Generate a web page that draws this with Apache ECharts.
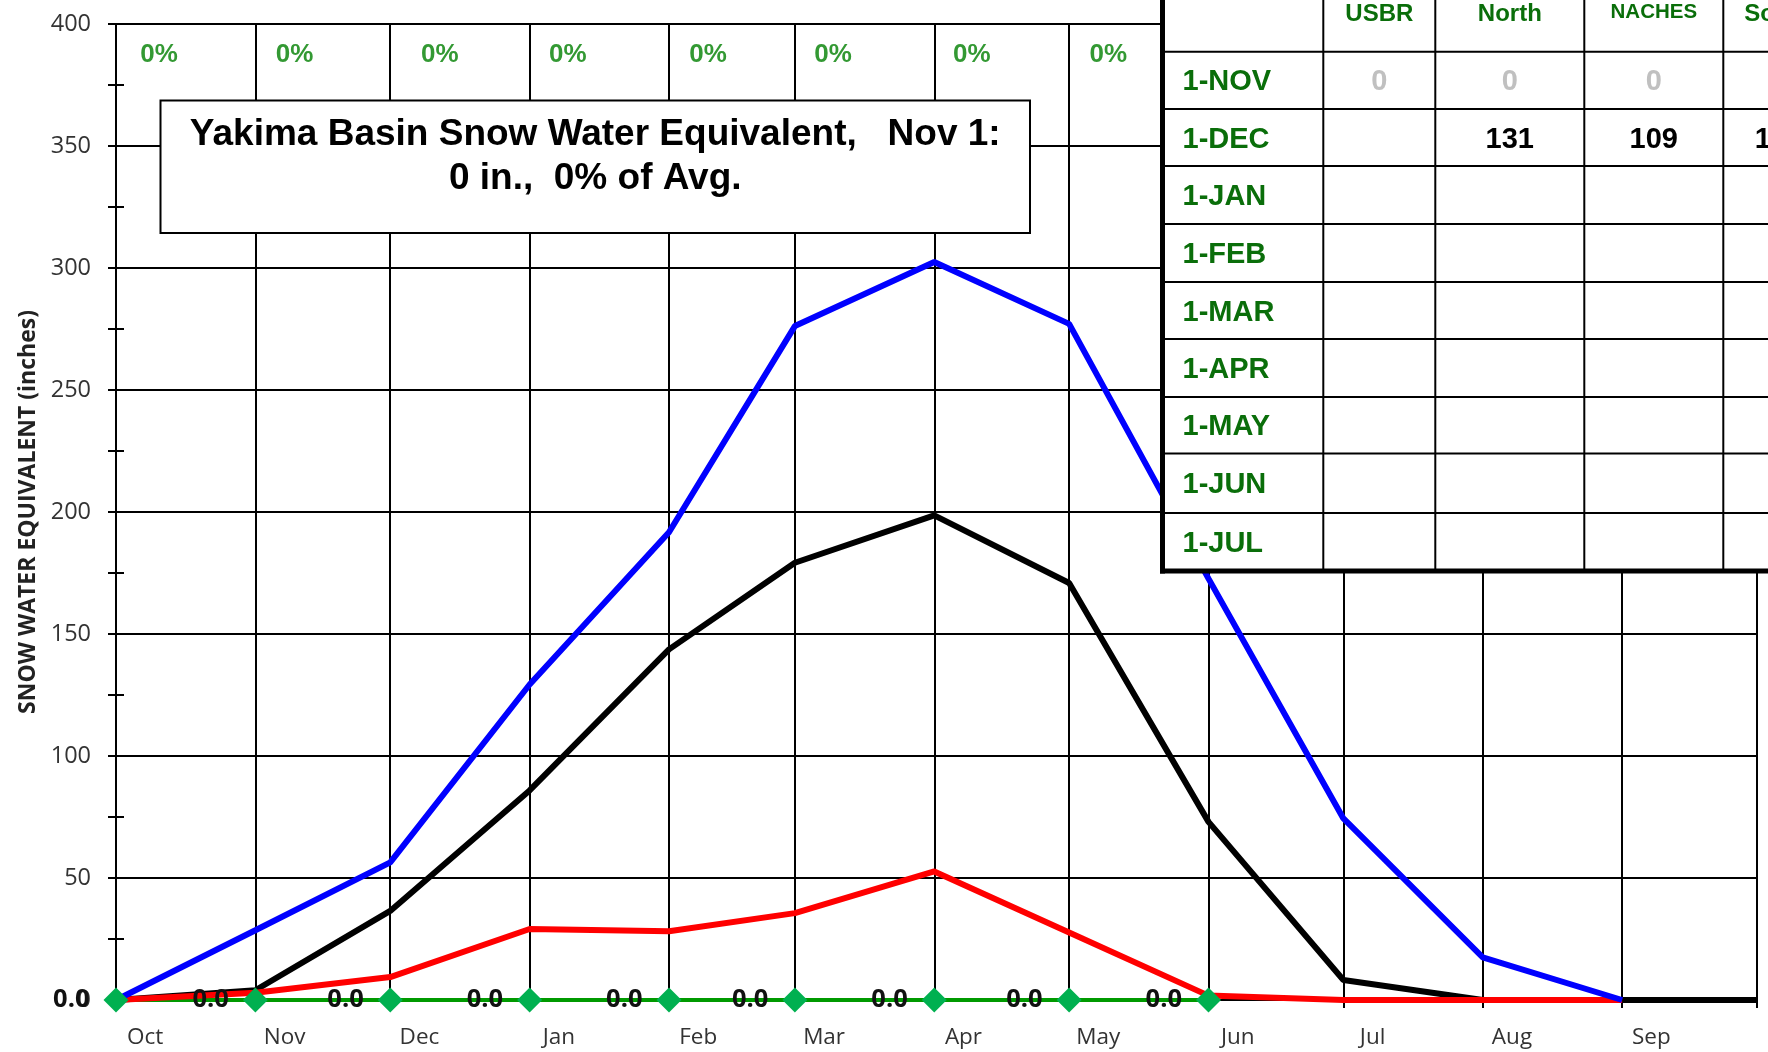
<!DOCTYPE html>
<html>
<head>
<meta charset="utf-8">
<script src="https://cdn.jsdelivr.net/npm/echarts@6/dist/echarts.min.js"></script>
<style>
html,body{margin:0;padding:0;background:#fff;}
#chart{width:1768px;height:1052px;}
</style>
</head>
<body>
<div id="chart"></div>
<script>
// ---------- data ----------
const monthStarts = ['2022-10-01','2022-11-01','2022-12-01','2023-01-01','2023-02-01','2023-03-01',
  '2023-04-01','2023-05-01','2023-06-01','2023-07-01','2023-08-01','2023-09-01','2023-10-01'];
const monthNames = ['Oct','Nov','Dec','Jan','Feb','Mar','Apr','May','Jun','Jul','Aug','Sep'];
// snow water equivalent (inches) on the 1st of each month
const maxSWE = [0, 28.6, 56.4, 129.3, 191.7, 276.2, 302.5, 277.1, 172.7, 74.4, 17.5, 0];          // Oct..Sep
const avgSWE = [0, 4, 36.5, 85.9, 143.7, 179.2, 198.6, 170.9, 73, 8.2, 0, 0, 0];                  // Oct..Oct
const minSWE = [0, 3, 9.4, 29.1, 28.2, 35.6, 52.7, 27.7, 1.8, 0, 0, 0];                           // Oct..Sep
const curSWE = [0, 0, 0, 0, 0, 0, 0, 0, 0];                                                       // Oct..Jun
// percent of average, one per month
const pctOfAvg = [0, 0, 0, 0, 0, 0, 0, 0, 0, 0, 0, 0];
const pctLabelDates = ['2022-10-10 14','2022-11-09 17','2022-12-12 01','2023-01-09 12',
  '2023-02-09 17','2023-03-09 12','2023-04-09 08','2023-05-09 17','2023-06-09 12',
  '2023-07-09 12','2023-08-09 12','2023-09-09 12'];
const yTicks = {min: 0, max: 400, step: 50};
const titleLines = ['Yakima Basin Snow Water Equivalent,   Nov 1:', '0 in.,  0% of Avg.'];
const yAxisTitle = 'SNOW WATER EQUIVALENT (inches)';
// side table
const tableHeaders = ['USBR', 'North', 'NACHES', 'South'];
const tableRowLabels = ['1-NOV','1-DEC','1-JAN','1-FEB','1-MAR','1-APR','1-MAY','1-JUN','1-JUL'];
const tableValues = [
  ['0', '0', '0', '0'],
  ['', '131', '109', '118'],
  ['', '', '', ''], ['', '', '', ''], ['', '', '', ''], ['', '', '', ''],
  ['', '', '', ''], ['', '', '', ''], ['', '', '', '']
];

// ---------- helpers: dates -> days since water-year start ----------
const HOUR = 3600000, DAY = 86400000;
function ts(s){
  const parts = s.split(' ');
  const p = parts[0].split('-').map(Number);
  const h = parts[1] ? Number(parts[1]) : 0;
  return Date.UTC(p[0], p[1]-1, p[2]) + h * HOUR;
}
const T0 = ts(monthStarts[0]);
const dayOf = s => (ts(s) - T0) / DAY;
const pair = (dates, vals) => vals.map((v, i) => [dayOf(dates[i]), v]);

const PCT_LABEL_Y = 387.4;
const LABEL_SHIFT_DAYS = 6.5;   // month name sits a little after the month start

// ---------- layout constants (pixels) ----------
const GRID = {left: 116, top: 24, width: 1641, height: 976};
const colX = [1162.5, 1323.3, 1435.3, 1584.3, 1723.3, 1833];
const rowY = [-10, 51.7, 109, 166, 224, 282, 339, 397, 453.5, 513, 571];
const tableFont = "'Liberation Sans', Arial, sans-serif";
const darkGreen = '#0a6e0a';

function txt(x, y, text, font, fill, align){
  return {type:'text', z:103, x:x, y:y,
    style:{text:text, font:font, fill:fill, align:align, verticalAlign:'middle',
      textAlign:align, textVerticalAlign:'middle'}};
}

function tableGraphic(){
  const els = [];
  const yEnd = rowY[rowY.length-1];
  els.push({type:'rect', z:100, shape:{x:colX[0], y:rowY[0], width:800, height:yEnd-rowY[0]}, style:{fill:'#fff'}});
  for (let i = 1; i < rowY.length - 1; i++) {
    els.push({type:'line', z:101, shape:{x1:colX[0], y1:rowY[i], x2:1800, y2:rowY[i]}, style:{stroke:'#000', lineWidth:2}});
  }
  for (let j = 1; j < colX.length - 1; j++) {
    els.push({type:'line', z:101, shape:{x1:colX[j], y1:rowY[0], x2:colX[j], y2:yEnd}, style:{stroke:'#000', lineWidth:2}});
  }
  els.push({type:'line', z:102, shape:{x1:colX[0], y1:rowY[0], x2:colX[0], y2:yEnd+2.5}, style:{stroke:'#000', lineWidth:5}});
  els.push({type:'line', z:102, shape:{x1:colX[0]-2.5, y1:yEnd, x2:1800, y2:yEnd}, style:{stroke:'#000', lineWidth:5}});
  tableHeaders.forEach((h, j) => {
    const small = h.length > 5;
    els.push(txt((colX[j+1]+colX[j+2])/2, small ? 12 : 14, h,
      `bold ${small ? 20.5 : 24}px ${tableFont}`, darkGreen, 'center'));
  });
  tableRowLabels.forEach((r, i) => {
    const cy = (rowY[i+1] + rowY[i+2]) / 2 + 2;
    els.push(txt(1182.5, cy, r, `bold 29px ${tableFont}`, darkGreen, 'left'));
    tableValues[i].forEach((v, j) => {
      if (!v) return;
      els.push(txt((colX[j+1]+colX[j+2])/2, cy, v, `bold 29px ${tableFont}`, i === 0 ? '#c0c0c0' : '#000', 'center'));
    });
  });
  return els;
}

function titleGraphic(){
  const bx = 160.5, by = 100.5, bw = 869.5, bh = 132.5;
  return [
    {type:'rect', z:100, shape:{x:bx, y:by, width:bw, height:bh}, style:{fill:'#fff', stroke:'#000', lineWidth:2}},
    txt(bx+bw/2, 134.5, titleLines[0], `bold 37px ${tableFont}`, '#000', 'center'),
    txt(bx+bw/2, 179, titleLines[1], `bold 37px ${tableFont}`, '#000', 'center')
  ];
}

const tickValues = monthStarts.map(dayOf);
const labelValues = monthStarts.slice(0, 12).map(s => dayOf(s) + LABEL_SHIFT_DAYS);

const chart = echarts.init(document.getElementById('chart'), null, {renderer:'canvas'});
const axisFont = "'Open Sans', 'Noto Sans', sans-serif";

chart.setOption({
  animation: false,
  backgroundColor: '#fff',
  grid: Object.assign({containLabel:false, outerBoundsMode:'none'}, GRID),
  xAxis: {
    type: 'value',
    min: tickValues[0],
    max: tickValues[tickValues.length-1],
    axisLine: {show:true, onZero:false, lineStyle:{color:'#000', width:2}},
    axisTick: {show:true, length:8, customValues: tickValues, lineStyle:{color:'#000', width:2}},
    splitLine: {show:true, lineStyle:{color:'#000', width:2}},
    axisLabel: {
      show:true, customValues: labelValues, margin: 26,
      fontFamily: axisFont, fontSize: 22.5, color:'#333',
      formatter: v => monthNames[labelValues.findIndex(l => Math.abs(l - v) < 0.01)] || ''
    }
  },
  yAxis: [{
    type: 'value', min: yTicks.min, max: yTicks.max, interval: yTicks.step,
    name: yAxisTitle, nameLocation:'middle', nameRotate: 90, nameGap: 75,
    nameTextStyle: {fontFamily: axisFont, fontWeight:'bold', fontSize: 23, color:'#222'},
    axisLine: {show:true, lineStyle:{color:'#000', width:2}},
    axisTick: {show:true, length:8, lineStyle:{color:'#000', width:2}},
    minorTick: {show:true, splitNumber:2, length:8, lineStyle:{color:'#000', width:2}},
    splitLine: {show:true, lineStyle:{color:'#000', width:2}},
    axisLabel: {margin: 25, fontFamily: axisFont, fontSize: 23.5, color:'#333'}
  }, {
    type: 'value', min: yTicks.min, max: yTicks.max, interval: yTicks.step, position:'left',
    axisLine: {show:false}, axisLabel:{show:false}, splitLine:{show:false},
    axisTick: {show:false, inside:true},
    minorTick: {show:true, splitNumber:2, length:8, lineStyle:{color:'#000', width:2}}
  }],
  series: [
    {name:'Average', type:'line', data: pair(monthStarts, avgSWE), symbol:'none',
      lineStyle:{color:'#000', width:6}, itemStyle:{color:'#000'}, z:2},
    {name:'Current', type:'line', data: pair(monthStarts, curSWE), symbol:'diamond', symbolSize:25,
      lineStyle:{color:'#009a00', width:4}, itemStyle:{color:'#00b050'}, z:2,
      label:{show:true, position:'left', distance:14, formatter: p => p.value[1].toFixed(1),
        fontFamily: axisFont, fontWeight:'bold', fontSize:25.5, color:'#111'}},
    {name:'Minimum', type:'line', data: pair(monthStarts, minSWE), symbol:'none',
      lineStyle:{color:'#ff0000', width:6}, itemStyle:{color:'#ff0000'}, z:2},
    {name:'Maximum', type:'line', data: pair(monthStarts, maxSWE), symbol:'none',
      lineStyle:{color:'#0000ff', width:6}, itemStyle:{color:'#0000ff'}, z:2},
    {name:'Pct', type:'scatter', symbolSize: 1, itemStyle:{color:'rgba(0,0,0,0)'},
      data: pctOfAvg.map((v, i) => ({value:[dayOf(pctLabelDates[i]), PCT_LABEL_Y], pct:v})),
      label:{show:true, position:'inside', formatter: p => p.data.pct + '%',
        fontFamily: tableFont, fontWeight:'bold', fontSize: 26, color:'#008000'}, z:3}
  ],
  graphic: titleGraphic().concat(tableGraphic())
});
</script>
</body>
</html>
